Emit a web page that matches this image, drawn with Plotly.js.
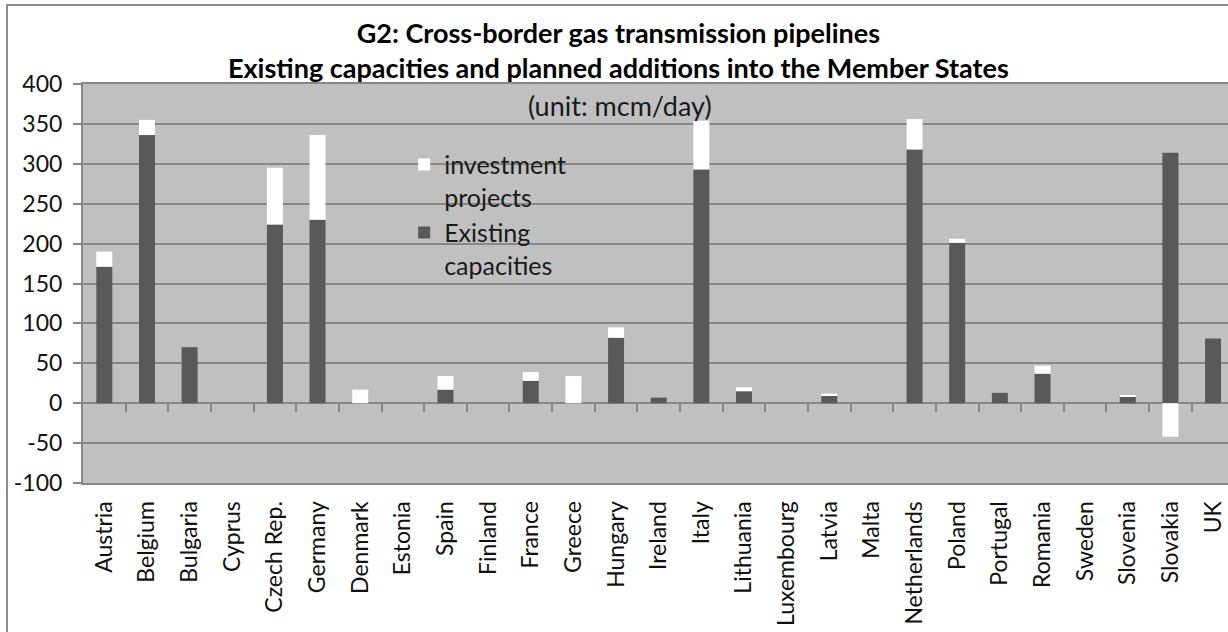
<!DOCTYPE html>
<html>
<head>
<meta charset="utf-8">
<script src="https://cdn.plot.ly/plotly-3.0.1.min.js"></script>
<style>
  html, body { margin: 0; padding: 0; background: #ffffff; }
  #frame { position: absolute; left: 6px; top: 4px; width: 1240px; height: 660px;
           border-left: 2px solid #8c8c8c; border-top: 2px solid #8c8c8c; pointer-events: none; z-index: 5; }
  #chart { position: absolute; left: 0; top: 0; width: 1228px; height: 632px; }
</style>
</head>
<body>
<div id="chart"></div>
<div id="frame"></div>
<script>
const countries = ["Austria","Belgium","Bulgaria","Cyprus","Czech Rep.","Germany","Denmark","Estonia","Spain","Finland","France","Greece","Hungary","Ireland","Italy","Lithuania","Luxembourg","Latvia","Malta","Netherlands","Poland","Portugal","Romania","Sweden","Slovenia","Slovakia","UK"];
const existingCapacities = [171,336,70,0,224,230,0,0,17,0,28,0,82,7,293,15,0,9,0,318,201,13,37,0,9,314,81];
const investmentProjects = [19,19,0,0,71,106,17,0,17,0,11,34,13,0,61,5,0,3,0,38,5,0,10,0,1,-42,0];
const yTicks = [-100,-50,0,50,100,150,200,250,300,350,400];
const yTickText = ["-100","-50","0","50","100","150","200","250","300","350","400"];
const titleLines = ["G2: Cross-border gas transmission pipelines", "Existing capacities and planned additions into the Member States"];
const unitLabel = "(unit: mcm/day)";

const gridCol = "#878787";
const fontFam = "Lato, 'Open Sans', 'Liberation Sans', sans-serif";

const traces = [
  { type: "bar", name: "Existing<br>capacities", x: countries, y: existingCapacities,
    marker: { color: "#595959", line: { width: 0 } }, hoverinfo: "x+y" },
  { type: "bar", name: "investment<br>projects", x: countries, y: investmentProjects,
    marker: { color: "#ffffff", line: { width: 0 } }, hoverinfo: "x+y" }
];

const nCat = countries.length;
const boundaries = countries.slice(1).map((c, i) => i + 0.5);
const xRange = [-0.5, nCat - 0.65];

traces.push({ type: "scatter", x: [], y: [], xaxis: "x2", showlegend: false, hoverinfo: "skip" });

const layout = {
  width: 1228, height: 632,
  margin: { l: 83, r: 0, t: 84, b: 149, pad: 0 },
  paper_bgcolor: "#ffffff",
  plot_bgcolor: "#c0c0c0",
  barmode: "relative",
  bargap: 0.625,
  font: { family: fontFam, color: "#1a1a1a", size: 25 },
  title: { text: "" },
  xaxis: {
    type: "category", range: xRange, tickangle: -90,
    showgrid: false, zeroline: false, ticks: "",
    showline: true, mirror: true, linecolor: gridCol, linewidth: 2,
    tickfont: { family: fontFam, size: 23, color: "#111111" },
    ticklabelstandoff: 7, fixedrange: true
  },
  xaxis2: {
    overlaying: "x", anchor: "free", position: 0.2, range: xRange,
    tickmode: "array", tickvals: boundaries, ticks: "outside", ticklen: 8,
    tickcolor: gridCol, tickwidth: 1.5, showticklabels: false,
    showgrid: false, zeroline: false, showline: false, fixedrange: true
  },
  yaxis: {
    range: [-100, 400], tickmode: "array", tickvals: yTicks, ticktext: yTickText,
    showgrid: true, gridcolor: gridCol, gridwidth: 2,
    zeroline: true, zerolinecolor: gridCol, zerolinewidth: 2,
    showline: true, linecolor: gridCol, linewidth: 2,
    ticks: "outside", ticklen: 8, tickcolor: gridCol, tickwidth: 2,
    tickfont: { family: fontFam, size: 23, color: "#111111" },
    ticklabelstandoff: 6, fixedrange: true
  },
  legend: {
    x: 0.2805, xanchor: "left", y: 0.855, yanchor: "top",
    bgcolor: "rgba(0,0,0,0)", borderwidth: 0,
    traceorder: "reversed", valign: "top",
    font: { family: fontFam, size: 25, color: "#1a1a1a" },
    itemwidth: 30
  },
  showlegend: true,
  annotations: [
    { text: titleLines.join("<br>"), xref: "paper", yref: "paper", x: 0.468, y: 1.084,
      xanchor: "center", yanchor: "middle", showarrow: false, align: "center",
      font: { family: fontFam, size: 27, color: "#000000", weight: "bold" } },
    { text: unitLabel, xref: "paper", yref: "paper", x: 0.469, y: 0.945,
      xanchor: "center", yanchor: "middle", showarrow: false,
      font: { family: fontFam, size: 27, color: "#1a1a1a" } }
  ]
};

Plotly.newPlot("chart", traces, layout, { displayModeBar: false });
</script>
</body>
</html>
